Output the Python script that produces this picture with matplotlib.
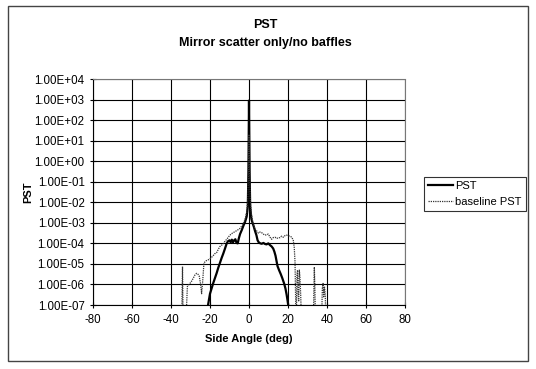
import matplotlib.pyplot as plt
import numpy as np
from matplotlib.patches import Rectangle
from matplotlib.ticker import FixedLocator, FuncFormatter

plt.rcParams["font.family"] = ["Liberation Sans", "DejaVu Sans"]
plt.rcParams["axes.unicode_minus"] = False

# PST (solid): side angle (deg) vs log10(PST)
pst_angle = [-21.4, -21.0, -20.0, -19.2, -18.4, -17.5, -16.6, -15.8, -14.9, -14.0,
             -13.2, -12.3, -11.5, -10.8, -10.0, -9.4, -8.8, -8.2, -7.6, -7.0,
             -6.4, -5.8, -5.2, -4.6, -3.7, -2.9, -2.0, -1.2, -0.6, -0.3,
             0.0, 0.3, 0.6, 1.2, 1.8, 2.5, 3.1, 3.8, 4.4, 5.0,
             5.8, 6.5, 7.4, 8.2, 9.0, 9.9, 10.7, 11.6, 12.4, 13.0,
             13.6, 14.2, 14.6, 15.4, 16.3, 17.1, 18.0, 18.7, 19.3, 19.8,
             20.1, 20.5]
pst_log = [-7.3, -7.0, -6.45, -6.2, -5.95, -5.7, -5.45, -5.2, -4.95, -4.7,
           -4.5, -4.25, -4.02, -3.9, -3.85, -3.95, -3.82, -3.95, -3.85, -3.8,
           -3.98, -4.0, -3.75, -3.55, -3.35, -3.15, -2.95, -2.7, -2.2, -0.5,
           2.95, -0.5, -2.2, -2.8, -3.0, -3.2, -3.4, -3.6, -3.85, -3.95,
           -4.0, -4.02, -3.98, -4.03, -4.05, -4.0, -4.08, -4.15, -4.25, -4.4,
           -4.6, -4.9, -5.1, -5.3, -5.5, -5.7, -5.95, -6.2, -6.5, -6.8,
           -7.0, -7.5]

# baseline PST (dotted)
base_angle = [-40.0, -35.0, -34.4, -34.1, -33.8, -32.5, -32.0, -31.6, -30.3, -29.5,
              -28.6, -27.8, -26.9, -26.2, -25.5, -24.8, -24.3, -23.8, -23.1, -22.0,
              -20.9, -19.6, -18.4, -17.5, -16.6, -15.8, -14.9, -13.5, -12.3, -11.0,
              -9.8, -8.5, -7.2, -5.8, -4.6, -3.3, -2.1, -1.2, -0.6, -0.3,
              0.0, 0.3, 0.6, 1.2, 2.0, 3.1, 4.0, 4.8, 5.6, 6.5,
              7.4, 8.2, 9.0, 9.9, 10.8, 11.6, 12.4, 13.3, 14.2, 15.0,
              15.9, 16.7, 17.6, 18.5, 19.3, 20.2, 21.0, 21.9, 22.7, 23.2,
              23.6, 24.0, 24.3, 24.6, 24.9, 25.2, 25.5, 25.8, 26.1, 26.5,
              27.0, 33.0, 33.3, 33.5, 33.8, 34.1, 37.2, 37.6, 38.0, 38.3,
              38.7, 39.1, 39.5, 40.0]
base_log = [-8.0, -8.0, -7.0, -5.13, -7.5, -8.0, -7.0, -6.1, -5.95, -5.85,
            -5.7, -5.55, -5.46, -5.5, -5.6, -6.0, -6.45, -5.9, -4.95, -4.85,
            -4.8, -4.72, -4.6, -4.5, -4.45, -4.3, -4.15, -4.05, -3.9, -3.75,
            -3.6, -3.5, -3.43, -3.35, -3.27, -3.1, -2.86, -2.5, -1.8, -0.5,
            1.3, -0.5, -1.8, -2.55, -3.0, -3.3, -3.4, -3.5, -3.45, -3.48,
            -3.55, -3.6, -3.58, -3.55, -3.7, -3.8, -3.72, -3.7, -3.76, -3.73,
            -3.72, -3.65, -3.7, -3.62, -3.6, -3.63, -3.65, -3.7, -3.85, -4.2,
            -4.9, -7.2, -7.5, -5.5, -5.3, -6.5, -6.8, -5.3, -5.6, -6.5,
            -8.0, -8.0, -6.0, -5.15, -6.2, -8.0, -8.0, -6.2, -5.95, -6.6,
            -6.1, -6.5, -8.0, -8.0]

x_ticks = [-80, -60, -40, -20, 0, 20, 40, 60, 80]
y_ticks = [1e-7, 1e-6, 1e-5, 1e-4, 1e-3, 1e-2, 1e-1, 1e0, 1e1, 1e2, 1e3, 1e4]

fig = plt.figure(figsize=(5.36, 3.69), dpi=100)
ax = fig.add_axes([93 / 536, 1 - 305 / 369, 312 / 536, 226 / 369])

ax.plot(pst_angle, 10 ** np.array(pst_log), color="black", lw=1.6, label="PST",
        zorder=3)
ax.plot(base_angle, 10 ** np.array(base_log), color="#333333", lw=0.9,
        linestyle=(0, (1, 0.8)), label="baseline PST", zorder=4)

ax.set_yscale("log")
ax.set_xlim(-80, 80)
ax.set_ylim(1e-7, 1e4)
ax.xaxis.set_major_locator(FixedLocator(x_ticks))
ax.yaxis.set_major_locator(FixedLocator(y_ticks))
ax.yaxis.set_minor_locator(FixedLocator([]))
ax.yaxis.set_major_formatter(FuncFormatter(lambda v, p: f"{v:.2E}"))
ax.grid(True, color="black", lw=0.8)
ax.tick_params(axis="both", labelsize=8.3, direction="inout", length=5,
               width=0.8, colors="black")
ax.tick_params(axis="x", pad=4)

for side in ["top", "right"]:
    ax.spines[side].set_color("#777777")
    ax.spines[side].set_linestyle((0, (1, 1)))
for side in ["left", "bottom"]:
    ax.spines[side].set_linewidth(0.8)

ax.set_xlabel("Side Angle (deg)", fontsize=8, fontweight="bold", labelpad=6)
ax.set_ylabel("PST", fontsize=8, fontweight="bold", labelpad=1)

fig.text(265 / 536, 1 - 25 / 369, "PST", ha="center", va="center",
         fontsize=9, fontweight="bold")
fig.text(265 / 536, 1 - 43 / 369, "Mirror scatter only/no baffles", ha="center",
         va="center", fontsize=9, fontweight="bold")

leg = ax.legend(loc="center left", bbox_to_anchor=(424 / 536, 1 - 194 / 369),
                bbox_transform=fig.transFigure, fontsize=8, frameon=True,
                fancybox=False, handlelength=2.2, handletextpad=0.2,
                borderpad=0.4, labelspacing=0.5, borderaxespad=0)
leg.get_frame().set_edgecolor("black")
leg.get_frame().set_linewidth(0.8)

fig.patches.append(Rectangle((7.5 / 536, 8 / 369), 520 / 536, 355 / 369,
                             transform=fig.transFigure, fill=False,
                             edgecolor="#444444", lw=1.0))

plt.savefig("out.png", dpi=100)
